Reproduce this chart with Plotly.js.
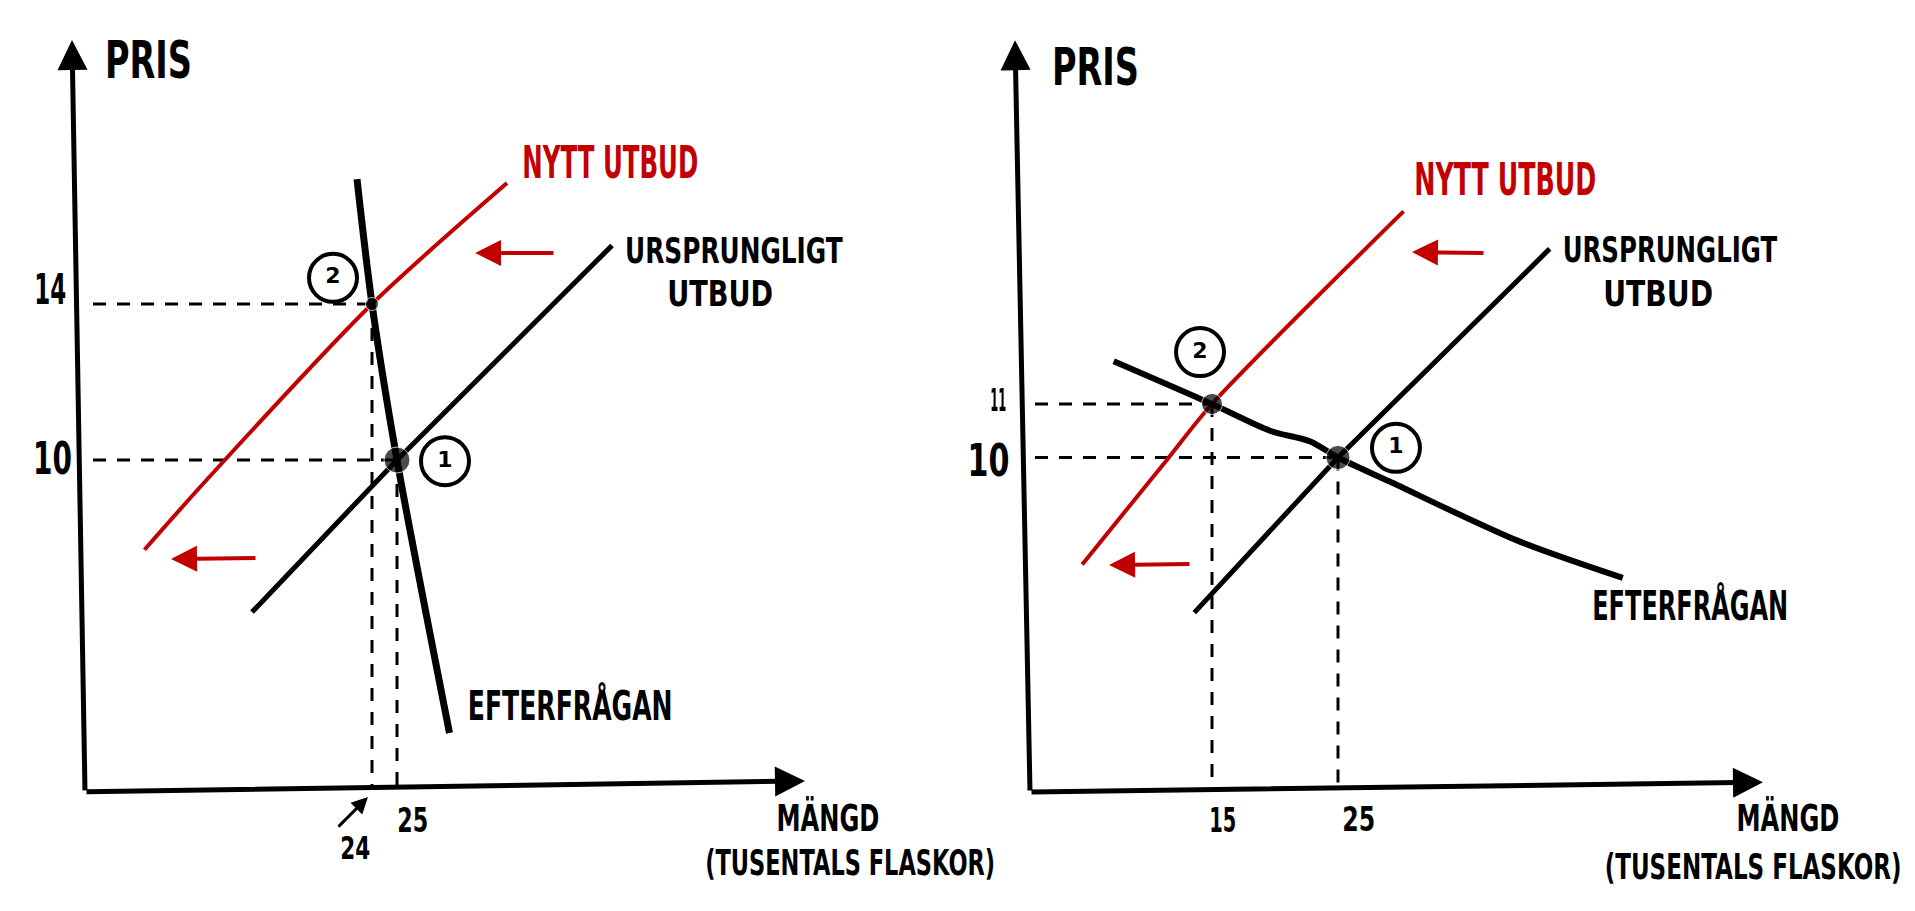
<!DOCTYPE html>
<html>
<head>
<meta charset="utf-8">
<script src="https://cdn.plot.ly/plotly-3.0.1.min.js"></script>
<style>
html, body { margin: 0; padding: 0; background: #ffffff; }
#chart { width: 1915px; height: 911px; }
</style>
</head>
<body>
<div id="chart"></div>
<script>
// ---------- DATA ----------
// Left panel: inelastic demand
const leftDemandQ = [23.4, 24, 25, 27.1];
const leftDemandP = [17.2, 14, 10, 3.0];
const leftSupplyQ = [19.2, 25, 33.6];
const leftSupplyP = [6.1, 10, 15.5];
const leftNewSupplyQ = [14.9, 17.4, 24, 29.4];
const leftNewSupplyP = [7.7, 9.5, 14, 17.1];
const leftEqQ = [25, 24];          // equilibrium 1, equilibrium 2
const leftEqP = [10, 14];
const leftEqLabels = ['1', '2'];
const leftPriceTicks = ['10', '14'];
const leftQtyTicks = ['25', '24'];

// Right panel: elastic demand
const rightDemandQ = [7.2, 15, 19.6, 22.8, 25, 29.1, 39.2, 47.6];
const rightDemandP = [11.8, 11, 10.5, 10.3, 10, 9.55, 8.45, 7.75];
const rightSupplyQ = [13.6, 25, 41.8];
const rightSupplyP = [7.1, 10, 13.9];
const rightNewSupplyQ = [4.7, 11.4, 15, 30.2];
const rightNewSupplyP = [8.0, 9.95, 11, 14.6];
const rightEqQ = [25, 15];
const rightEqP = [10, 11];
const rightEqLabels = ['1', '2'];
const rightPriceTicks = ['10', '11'];
const rightQtyTicks = ['25', '15'];

// Texts
const txtPrice = 'PRIS';
const txtQty = 'MÄNGD';
const txtUnit = '(TUSENTALS FLASKOR)';
const txtNewSupply = 'NYTT UTBUD';
const txtOrigSupply = ['URSPRUNGLIGT', 'UTBUD'];
const txtDemand = 'EFTERFRÅGAN';

// ---------- STYLE ----------
const FONT = '"DejaVu Sans", "Liberation Sans", sans-serif';
const BLACK = '#000000';
const RED = '#c20000';

function line(xs, ys, xa, ya, color, width, dash, shape) {
  return { type: 'scatter', mode: 'lines', x: xs, y: ys, xaxis: xa, yaxis: ya,
           line: { color: color, width: width, dash: dash || 'solid', shape: shape || 'linear', smoothing: 0.8 },
           hoverinfo: 'skip', showlegend: false };
}
function dots(xs, ys, xa, ya, sizes) {
  return { type: 'scatter', mode: 'markers', x: xs, y: ys, xaxis: xa, yaxis: ya,
           marker: { color: BLACK, size: sizes }, hoverinfo: 'skip', showlegend: false };
}
function circles(xs, ys, texts, xa, ya) {
  return { type: 'scatter', mode: 'markers+text', x: xs, y: ys, xaxis: xa, yaxis: ya,
           text: texts, textposition: 'middle center',
           textfont: { family: FONT, size: 22, color: BLACK, weight: 700 },
           marker: { symbol: 'circle-open', size: 48, color: BLACK, line: { width: 4, color: BLACK } },
           hoverinfo: 'skip', showlegend: false };
}

const ann = [];
const squeeze = [];   // hand lettering is narrow: target widths (px) per annotation
function label(xref, yref, x, y, text, size, color, width) {
  ann.push({ xref: xref, yref: yref, x: x, y: y, text: text, showarrow: false,
             xanchor: 'center', yanchor: 'middle',
             font: { family: FONT, size: size, color: color || BLACK, weight: 700 } });
  squeeze.push(width || null);
}
function arrow(xref, yref, hx, hy, tx, ty, color, width, size) {
  ann.push({ xref: xref, yref: yref, axref: xref, ayref: yref,
             x: hx, y: hy, ax: tx, ay: ty, text: '', showarrow: true,
             arrowhead: 2, arrowsize: size, arrowwidth: width, arrowcolor: color, standoff: 0 });
  squeeze.push(null);
}

// ---------- TRACES ----------
const traces = [];
const DASH = '13px,11px';
// Left panel guides
const lAxisY = 1.56, lAxisX = 12.84;
leftEqQ.forEach((q, i) => {
  traces.push(line([lAxisX, q], [leftEqP[i], leftEqP[i]], 'x', 'y', BLACK, 3, DASH));
  traces.push(line([q, q], [leftEqP[i], lAxisY], 'x', 'y', BLACK, 3, DASH));
});
traces.push(line(leftNewSupplyQ, leftNewSupplyP, 'x', 'y', RED, 4, null, 'spline'));
traces.push(line(leftSupplyQ, leftSupplyP, 'x', 'y', BLACK, 5));
traces.push(line(leftDemandQ, leftDemandP, 'x', 'y', BLACK, 7, null, 'spline'));
traces.push(dots(leftEqQ, leftEqP, 'x', 'y', [26, 13]));
traces.push(circles([26.92, 22.44], [9.97, 14.67], leftEqLabels, 'x', 'y'));

// Right panel guides
const rAxisY = 3.79, rAxisX = 0.95;
rightEqQ.forEach((q, i) => {
  traces.push(line([rAxisX, q], [rightEqP[i], rightEqP[i]], 'x2', 'y2', BLACK, 3, DASH));
  traces.push(line([q, q], [rightEqP[i], rAxisY], 'x2', 'y2', BLACK, 3, DASH));
});
traces.push(line(rightNewSupplyQ, rightNewSupplyP, 'x2', 'y2', RED, 4, null, 'spline'));
traces.push(line(rightSupplyQ, rightSupplyP, 'x2', 'y2', BLACK, 5));
traces.push(line(rightDemandQ, rightDemandP, 'x2', 'y2', BLACK, 6, null, 'spline'));
traces.push(dots(rightEqQ, rightEqP, 'x2', 'y2', [24, 21]));
traces.push(circles([29.6, 14.05], [10.18, 11.97], rightEqLabels, 'x2', 'y2'));

// ---------- ANNOTATIONS ----------
// Left axes and arrows
arrow('x', 'y', 12.0, 20.77, 12.52, 1.49, BLACK, 5, 1.2);
arrow('x', 'y', 41.32, 1.77, 12.52, 1.49, BLACK, 5, 1.2);
arrow('x', 'y', 28.12, 15.31, 31.32, 15.31, RED, 4, 1.3);
arrow('x', 'y', 15.96, 7.46, 19.4, 7.49, RED, 4, 1.3);
arrow('x', 'y', 23.84, 1.36, 22.6, 0.56, BLACK, 3, 1.1);
// Left texts
label('x', 'y', 15.04, 20.26, txtPrice, 52, BLACK, 87);
label('x', 'y', 11.1, 14.36, leftPriceTicks[1], 42, BLACK, 32);
label('x', 'y', 11.2, 10.05, leftPriceTicks[0], 44, BLACK, 39);
label('x', 'y', 25.6, 0.77, leftQtyTicks[0], 34, BLACK, 31);
label('x', 'y', 23.32, 0.05, leftQtyTicks[1], 32, BLACK, 30);
label('x', 'y', 33.52, 17.62, txtNewSupply, 44, RED, 176);
label('x', 'y', 38.48, 15.38, txtOrigSupply[0], 36, BLACK, 218);
label('x', 'y', 37.92, 14.26, txtOrigSupply[1], 36, BLACK, 106);
label('x', 'y', 31.92, 3.72, txtDemand, 40, BLACK, 205);
label('x', 'y', 42.24, 0.82, txtQty, 38, BLACK, 103);
label('x', 'y', 43.12, -0.33, txtUnit, 36, BLACK, 290);

// Right axes and arrows
arrow('x2', 'y2', -0.635, 17.80, 0.556, 3.748, BLACK, 5, 1.2);
arrow('x2', 'y2', 58.73, 3.93, 0.556, 3.748, BLACK, 5, 1.2);
arrow('x2', 'y2', 30.87, 13.84, 36.67, 13.82, RED, 4, 1.3);
arrow('x2', 'y2', 6.83, 7.99, 13.33, 8.01, RED, 4, 1.3);
// Right texts
label('x2', 'y2', 5.79, 17.30, txtPrice, 52, BLACK, 87);
label('x2', 'y2', -1.98, 11.07, rightPriceTicks[1], 32, BLACK, 16);
label('x2', 'y2', -2.7, 9.95, rightPriceTicks[0], 44, BLACK, 42);
label('x2', 'y2', 15.87, 3.224, rightQtyTicks[1], 34, BLACK, 27);
label('x2', 'y2', 26.59, 3.243, rightQtyTicks[0], 34, BLACK, 33);
label('x2', 'y2', 38.33, 15.19, txtNewSupply, 44, RED, 182);
label('x2', 'y2', 51.35, 13.89, txtOrigSupply[0], 36, BLACK, 215);
label('x2', 'y2', 50.40, 13.07, txtOrigSupply[1], 36, BLACK, 110);
label('x2', 'y2', 52.94, 7.24, txtDemand, 40, BLACK, 196);
label('x2', 'y2', 60.71, 3.26, txtQty, 38, BLACK, 103);
label('x2', 'y2', 57.94, 2.36, txtUnit, 36, BLACK, 297);

const hidden = { visible: false, showgrid: false, zeroline: false, fixedrange: true };
const layout = {
  width: 1915, height: 911,
  margin: { l: 0, r: 0, t: 0, b: 0, pad: 0 },
  paper_bgcolor: '#ffffff', plot_bgcolor: '#ffffff',
  showlegend: false,
  xaxis: Object.assign({ domain: [0, 0.5], range: [9.12, 47.42], anchor: 'y' }, hidden),
  yaxis: Object.assign({ domain: [0, 1], range: [-1.564, 21.795], anchor: 'x' }, hidden),
  xaxis2: Object.assign({ domain: [0.5, 1], range: [-5.198, 70.794], anchor: 'y2' }, hidden),
  yaxis2: Object.assign({ domain: [0, 1], range: [1.523, 18.551], anchor: 'x2' }, hidden),
  annotations: ann
};

Plotly.newPlot('chart', traces, layout, { displayModeBar: false, staticPlot: true }).then(function (gd) {
  const base = gd.getBoundingClientRect();
  gd.querySelectorAll('g.annotation').forEach(function (g) {
    const w = squeeze[+g.getAttribute('data-index')];
    const t = g.querySelector('text.annotation-text');
    if (!w || !t) return;
    const bb = t.getBoundingClientRect();
    if (!bb.width) return;
    const cx = bb.left - base.left + bb.width / 2;
    const s = w / bb.width;
    g.setAttribute('transform', 'translate(' + cx + ',0) scale(' + s + ',1) translate(' + (-cx) + ',0)');
  });
});
</script>
</body>
</html>
